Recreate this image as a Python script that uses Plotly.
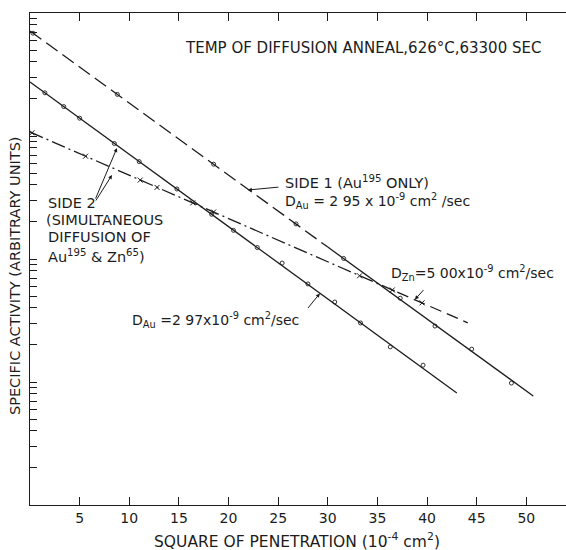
import math
import plotly.graph_objects as go

# ---- data ----
# fitted lines (x: square of penetration, 1e-4 cm^2; y: specific activity, arbitrary units)
side1_dash_x = [0.0, 30.0]
side1_dash_y = [7145, 125]
side1_solid_x = [30.0, 50.7]
side1_solid_y = [125, 7.7]

side2_au_x = [0.0, 43.0]
side2_au_y = [2748, 8.15]

side2_zn_dd_x = [0.0, 37.0]
side2_zn_dd_y = [1079, 53.8]
side2_zn_ld_x = [37.0, 44.1]
side2_zn_ld_y = [53.8, 30.3]

# measured points
side1_pts_x = [0.3, 8.8, 18.5, 26.8, 31.6, 37.3, 40.8, 44.5, 48.5]
side1_pts_y = [6850, 2180, 590, 193, 101, 48, 28.5, 18.5, 9.8]

side2_au_pts_x = [1.5, 3.4, 5.0, 8.5, 11.0, 14.8, 18.3, 20.5, 22.9, 25.4, 28.0, 30.7, 33.3, 36.3, 39.6]
side2_au_pts_y = [2244, 1734, 1396, 869, 619, 371, 231, 171, 124, 92.7, 62.7, 44.7, 30.2, 19.3, 13.7]

side2_zn_pts_x = [0.2, 5.6, 11.1, 12.8, 16.4, 18.5, 33.2, 36.5, 39.5]
side2_zn_pts_y = [1062, 685, 438, 382, 286, 241, 73, 56, 44]

x_ticks = [5, 10, 15, 20, 25, 30, 35, 40, 45, 50]
y_ticks = [k * 10 ** d for d in range(4) for k in range(1, 10)] + [10000]

INK = "#1c1c1c"
FONT = "DejaVu Sans"

fig = go.Figure()

def line(x, y, dash):
    fig.add_trace(go.Scatter(x=x, y=y, mode="lines",
                             line=dict(color=INK, width=1.3, dash=dash),
                             hoverinfo="skip", showlegend=False))

line(side1_dash_x, side1_dash_y, "14px,6px")
line(side1_solid_x, side1_solid_y, "solid")
line(side2_au_x, side2_au_y, "solid")
line(side2_zn_dd_x, side2_zn_dd_y, "14px,4px,2px,4px")
line(side2_zn_ld_x, side2_zn_ld_y, "12px,6px")

fig.add_trace(go.Scatter(x=side1_pts_x, y=side1_pts_y, mode="markers",
                         marker=dict(symbol="circle-open", size=4, color=INK, line=dict(width=0.9)),
                         showlegend=False))
fig.add_trace(go.Scatter(x=side2_au_pts_x, y=side2_au_pts_y, mode="markers",
                         marker=dict(symbol="circle-open", size=4, color=INK, line=dict(width=0.9)),
                         showlegend=False))
fig.add_trace(go.Scatter(x=side2_zn_pts_x, y=side2_zn_pts_y, mode="markers",
                         marker=dict(symbol="x-thin-open", size=5, color=INK, line=dict(width=1)),
                         showlegend=False))

L, T, W, H = 30, 13, 536, 492

def px(xp):
    return (xp - L) / W

def py(yp):
    return 1 - (yp - T) / H

def text(s, xp, yp, size=14, anchor="left", angle=0):
    fig.add_annotation(text=s, x=px(xp), y=py(yp), xref="paper", yref="paper",
                       xanchor=anchor, yanchor="middle", showarrow=False,
                       textangle=angle, font=dict(family=FONT, size=size, color=INK))

def arrow(xd, yd, ax, ay):
    fig.add_annotation(x=xd, y=math.log10(yd), xref="x", yref="y", text="",
                       showarrow=True, ax=ax, ay=ay, arrowhead=2, arrowsize=0.8,
                       arrowwidth=1, arrowcolor=INK)

text("TEMP OF DIFFUSION ANNEAL,626°C,63300 SEC", 183, 48, 15)
text("SIDE 1 (Au<sup>195</sup> ONLY)", 283, 182, 14.5)
text("D<sub>Au</sub> = 2 95 x 10<sup>-9</sup> cm<sup>2</sup> /sec", 283, 201, 14)
text("SIDE 2", 46, 203, 14.5)
text("(SIMULTANEOUS", 44, 220, 14.5)
text("DIFFUSION OF", 46, 237, 14.5)
text("Au<sup>195</sup> & Zn<sup>65</sup>)", 46, 256, 14.5)
text("D<sub>Au</sub> =2 97x10<sup>-9</sup> cm<sup>2</sup>/sec", 130, 320, 14)
text("D<sub>Zn</sub>=5 00x10<sup>-9</sup> cm<sup>2</sup>/sec", 389, 273, 14)
text("SPECIFIC ACTIVITY (ARBITRARY UNITS)", 15, 276, 14.5, "center", -90)
text("SQUARE OF PENETRATION (10<sup>-4</sup> cm<sup>2</sup>)", 297, 540, 15.5, "center")

arrow(21.95, 10 ** 2.561, 32, -3)
arrow(8.76, 10 ** 2.902, -22, 52)
arrow(8.26, 10 ** 2.683, -17, 27)
arrow(29.2, 10 ** 1.72, -13, 16)
arrow(38.77, 10 ** 1.67, 10, -11)

fig.update_layout(
    width=566, height=550,
    margin=dict(l=L, r=0, t=T, b=45),
    paper_bgcolor="white", plot_bgcolor="white",
    font=dict(family=FONT, size=14, color=INK),
    showlegend=False,
)
fig.update_xaxes(range=[0, 54], showgrid=False, zeroline=False,
                 showline=True, linecolor=INK, linewidth=1.2, mirror="ticks",
                 ticks="inside", ticklen=8, tickcolor=INK, tickwidth=1,
                 tickvals=x_ticks, ticktext=[str(v) for v in x_ticks],
                 tickfont=dict(family=FONT, size=14, color=INK))
fig.update_yaxes(type="log", range=[0, 4], showgrid=False, zeroline=False,
                 showline=True, linecolor=INK, linewidth=1.2,
                 ticks="inside", ticklen=7, tickcolor=INK, tickwidth=1,
                 tickvals=y_ticks, showticklabels=False)

fig.write_html("out.html", config={"displayModeBar": False},
               post_script="document.body.style.margin='0';document.body.style.overflow='hidden';")
